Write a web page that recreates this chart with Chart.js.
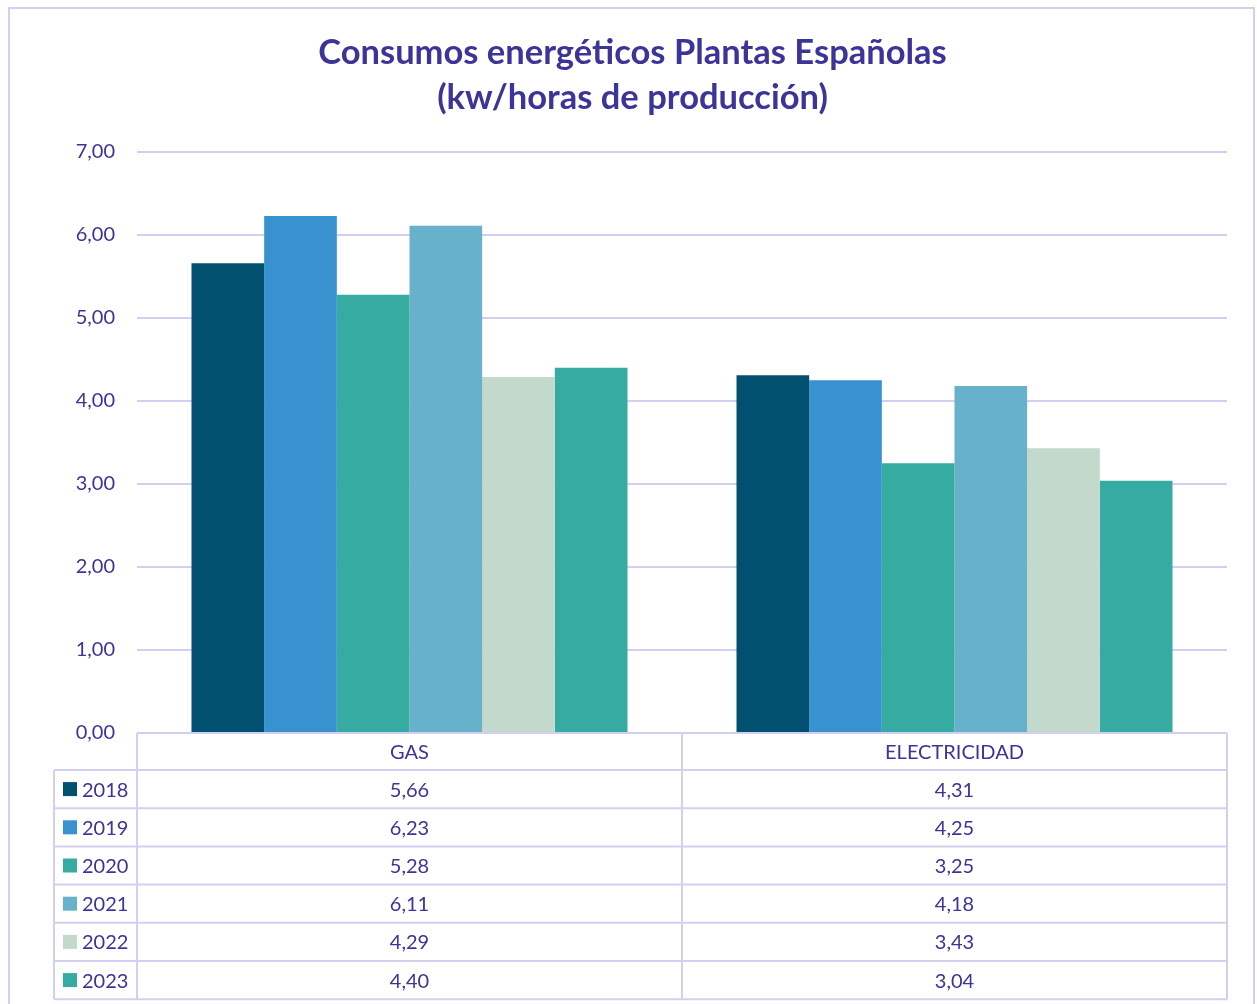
<!DOCTYPE html>
<html>
<head>
<meta charset="utf-8">
<script src="https://cdn.jsdelivr.net/npm/chart.js@4"></script>
<style>
    html, body { margin: 0; padding: 0; background: #ffffff; }
    #wrap { position: relative; width: 1257px; height: 1004px; }
</style>
</head>
<body>
<div id="wrap"><canvas id="energyChart"></canvas></div>
<script>
// DATA
const categories = ['GAS', 'ELECTRICIDAD'];
const years = ['2018', '2019', '2020', '2021', '2022', '2023'];
const values2018 = [5.66, 4.31];
const values2019 = [6.23, 4.25];
const values2020 = [5.28, 3.25];
const values2021 = [6.11, 4.18];
const values2022 = [4.29, 3.43];
const values2023 = [4.40, 3.04];
const yTicks = [0, 1, 2, 3, 4, 5, 6, 7];

const seriesValues = [values2018, values2019, values2020, values2021, values2022, values2023];
const seriesColors = ['#02506f', '#3792cf', '#36aba2', '#67b1ca', '#c3d9cc', '#36aba2'];

const TEXT_COLOR = '#3b3499';
const LINE_COLOR = '#d3cff1';
const FONT = 'Lato, "Open Sans", sans-serif';

function formatComma(v) {
    return v.toFixed(2).replace('.', ',');
}

// PLUGINS

// outer frame of the chart
const framePlugin = {
    id: 'frame',
    beforeDraw(chart) {
        const ctx = chart.ctx;
        ctx.save();
        ctx.fillStyle = '#ffffff';
        ctx.fillRect(0, 0, chart.width, chart.height);
        ctx.strokeStyle = LINE_COLOR;
        ctx.lineWidth = 2;
        ctx.strokeRect(9, 8, 1245, 1010);
        ctx.restore();
    }
};

// data table under the plot
const dataTablePlugin = {
    id: 'dataTable',
    afterDraw(chart) {
        const ctx = chart.ctx;
        const area = chart.chartArea;
        const xScale = chart.scales.x;
        const half = (area.right - area.left) / categories.length / 2;
        const colEdges = [area.left];
        categories.forEach((c, i) => colEdges.push(xScale.getPixelForValue(i) + half));

        const legendLeft = 54;
        const headerTop = area.bottom;
        const headerBottom = headerTop + 37;
        const rowH = 38.2;
        const tableBottom = headerBottom + rowH * years.length;

        ctx.save();
        ctx.strokeStyle = LINE_COLOR;
        ctx.lineWidth = 2;

        // header row
        ctx.beginPath();
        ctx.moveTo(area.left, headerTop);
        ctx.lineTo(area.right, headerTop);
        colEdges.forEach(x => {
            ctx.moveTo(x, headerTop);
            ctx.lineTo(x, tableBottom);
        });
        // body rows
        for (let r = 0; r <= years.length; r++) {
            const y = headerBottom + rowH * r;
            ctx.moveTo(legendLeft, y);
            ctx.lineTo(area.right, y);
        }
        ctx.moveTo(legendLeft, headerBottom);
        ctx.lineTo(legendLeft, tableBottom);
        ctx.stroke();

        ctx.fillStyle = TEXT_COLOR;
        ctx.font = '20px ' + FONT;
        ctx.textBaseline = 'middle';
        ctx.textAlign = 'center';
        categories.forEach((c, i) => {
            ctx.fillText(c, xScale.getPixelForValue(i), (headerTop + headerBottom) / 2 + 1);
        });

        years.forEach((year, r) => {
            const cy = headerBottom + rowH * r + rowH / 2 + 1;
            ctx.fillStyle = seriesColors[r];
            ctx.fillRect(63, cy - 8, 14, 14);
            ctx.fillStyle = TEXT_COLOR;
            ctx.textAlign = 'left';
            ctx.fillText(year, 82, cy);
            ctx.textAlign = 'center';
            seriesValues[r].forEach((v, i) => {
                ctx.fillText(formatComma(v), xScale.getPixelForValue(i), cy);
            });
        });
        ctx.restore();
    }
};

// CHART

document.addEventListener('DOMContentLoaded', () => {
    const ctx = document.getElementById('energyChart');

    new Chart(ctx, {
        type: 'bar',
        data: {
            labels: categories,
            datasets: years.map((year, i) => ({
                label: year,
                data: seriesValues[i],
                backgroundColor: seriesColors[i],
                borderWidth: 0,
                categoryPercentage: 0.8,
                barPercentage: 1.0
            }))
        },
        options: {
            responsive: true,
            maintainAspectRatio: false,
            animation: false,
            layout: {
                padding: { left: 38, right: 30, top: 0, bottom: 271 }
            },
            plugins: {
                legend: { display: false },
                tooltip: { enabled: false },
                title: {
                    display: true,
                    text: ['Consumos energéticos Plantas Españolas', '(kw/horas de producción)'],
                    color: TEXT_COLOR,
                    font: { family: FONT, size: 34.5, weight: 'bold', lineHeight: 45 / 34.5 },
                    padding: { top: 30, bottom: 32 }
                }
            },
            scales: {
                x: {
                    display: false,
                    offset: true
                },
                y: {
                    min: 0,
                    max: 7,
                    afterBuildTicks(scale) {
                        scale.ticks = yTicks.map(v => ({ value: v }));
                    },
                    afterFit(scale) {
                        scale.width = 99;
                    },
                    border: { display: false },
                    grid: {
                        color: LINE_COLOR,
                        lineWidth: 2,
                        drawTicks: false
                    },
                    ticks: {
                        color: TEXT_COLOR,
                        padding: 22,
                        font: { family: FONT, size: 20 },
                        callback: v => formatComma(v)
                    }
                }
            }
        },
        plugins: [framePlugin, dataTablePlugin]
    });
});
</script>
</body>
</html>
